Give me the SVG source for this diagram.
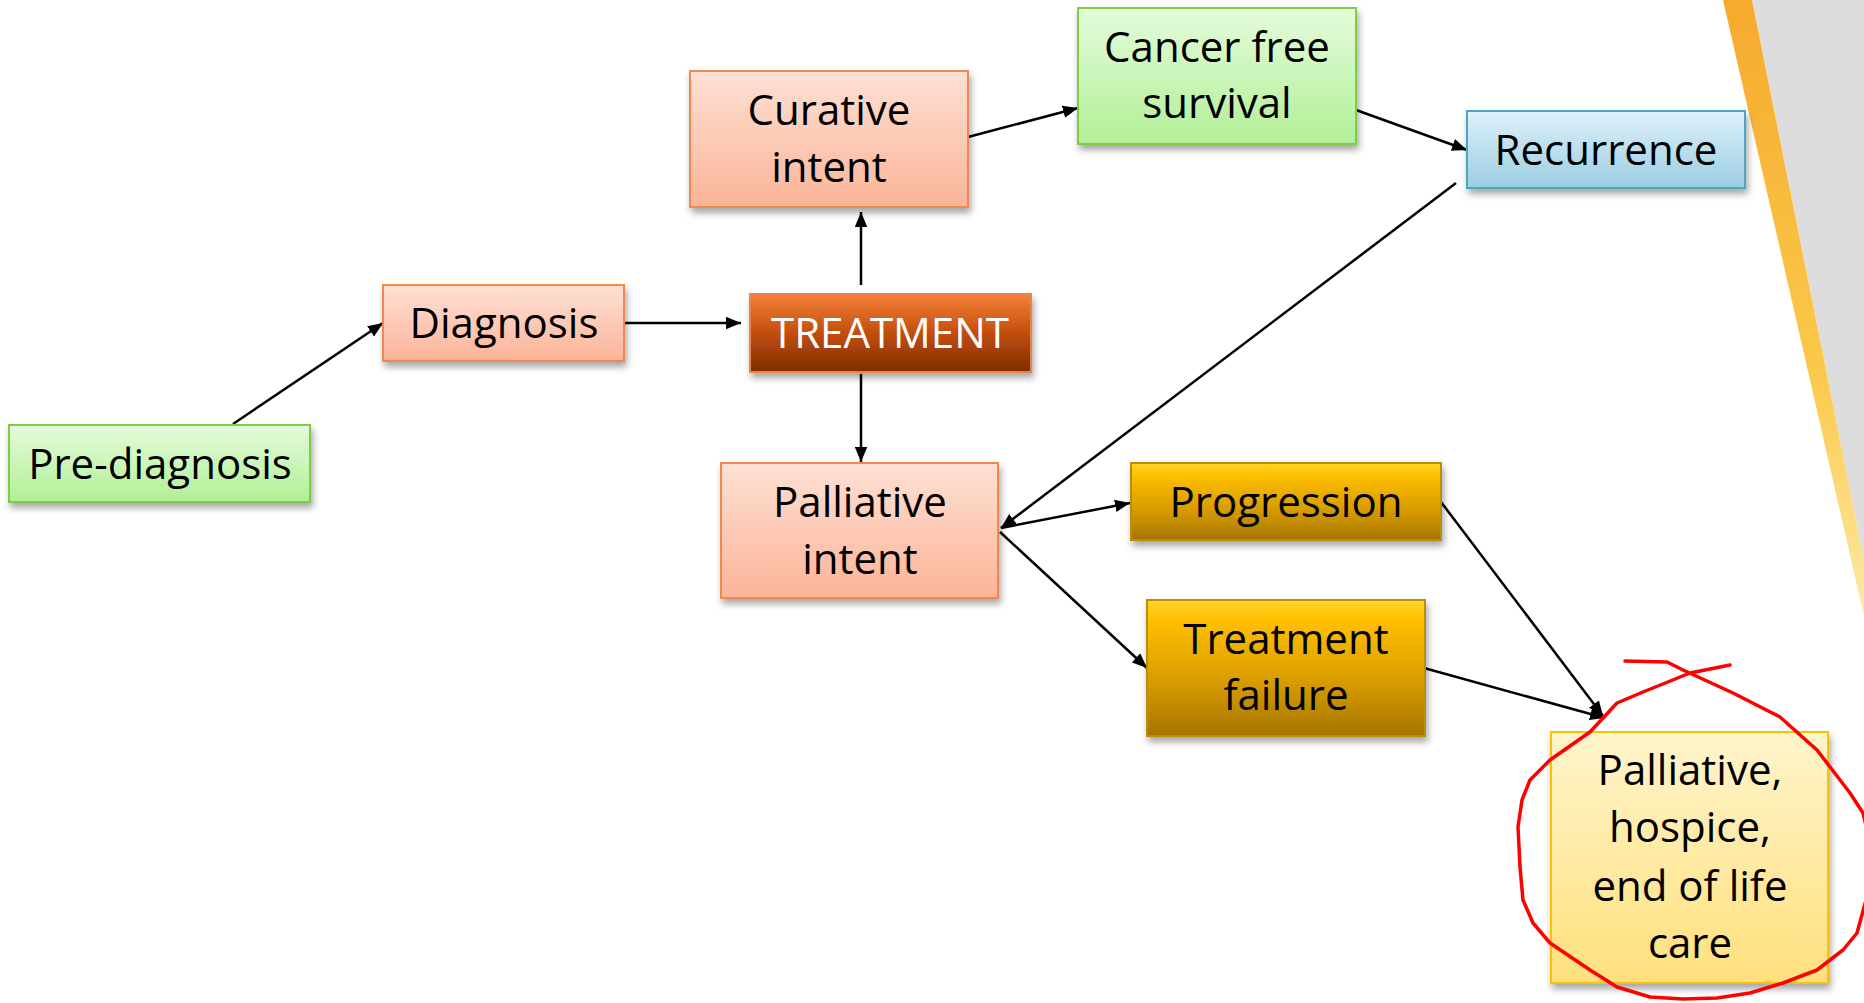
<svg xmlns="http://www.w3.org/2000/svg" width="1864" height="1003" viewBox="0 0 1864 1003">
  <style>
    .box { stroke-width: 2; filter: url(#shadow); }
    .lbl { font-family: "Open Sans", "Liberation Sans", sans-serif; font-size: 42px; fill: #000; text-anchor: middle; }
    .wht { fill: #fff; }
    .conn { stroke: #000; stroke-width: 2.5; fill: none; marker-end: url(#arrow); }
    .scribble { stroke: #ff0000; stroke-width: 3.5; fill: none; stroke-linejoin: round; stroke-linecap: round; }
  </style>
  <defs>
    <filter id="shadow" x="-10%" y="-10%" width="125%" height="135%">
      <feDropShadow dx="2" dy="5" stdDeviation="3.5" flood-color="#000" flood-opacity="0.35"/>
    </filter>
    <marker id="arrow" viewBox="0 0 12 10" refX="12" refY="5" markerWidth="15" markerHeight="13" markerUnits="userSpaceOnUse" orient="auto">
      <path d="M0,0 L12,5 L0,10 Z" fill="#000"/>
    </marker>
    <linearGradient id="gGreen" x1="0" y1="0" x2="0" y2="1">
      <stop offset="0" stop-color="#e4fcdb"/>
      <stop offset="1" stop-color="#b2ef97"/>
    </linearGradient>
    <linearGradient id="gSalmon" x1="0" y1="0" x2="0" y2="1">
      <stop offset="0" stop-color="#fee0d4"/>
      <stop offset="1" stop-color="#fbb498"/>
    </linearGradient>
    <linearGradient id="gTreat" x1="0" y1="0" x2="0" y2="1">
      <stop offset="0" stop-color="#f6823a"/>
      <stop offset="0.5" stop-color="#c24e0c"/>
      <stop offset="1" stop-color="#7e2c00"/>
    </linearGradient>
    <linearGradient id="gBlue" x1="0" y1="0" x2="0" y2="1">
      <stop offset="0" stop-color="#ddf1fa"/>
      <stop offset="1" stop-color="#9bcde2"/>
    </linearGradient>
    <linearGradient id="gGold" x1="0" y1="0" x2="0" y2="1">
      <stop offset="0" stop-color="#ffd52a"/>
      <stop offset="0.15" stop-color="#ffc000"/>
      <stop offset="0.6" stop-color="#d89c00"/>
      <stop offset="1" stop-color="#a67500"/>
    </linearGradient>
    <linearGradient id="gYellow" x1="0" y1="0" x2="0" y2="1">
      <stop offset="0" stop-color="#fff5cc"/>
      <stop offset="1" stop-color="#ffe07d"/>
    </linearGradient>
    <linearGradient id="gStripe" x1="0" y1="0" x2="0" y2="1">
      <stop offset="0" stop-color="#f6aa2e"/>
      <stop offset="0.6" stop-color="#fbc94a"/>
      <stop offset="1" stop-color="#fde9a8"/>
    </linearGradient>
  </defs>

  <rect x="0" y="0" width="1864" height="1003" fill="#ffffff"/>

  <g id="background-decor">
    <polygon points="1752,0 1864,0 1864,560" fill="#dddddd"/>
    <polygon points="1723,0 1752,0 1864,560 1864,616" fill="url(#gStripe)"/>
  </g>

  <g id="connectors">
    <path class="conn" d="M233,424 L383,323"/>
    <path class="conn" d="M625,323 L741,323"/>
    <path class="conn" d="M861,285 L861,212"/>
    <path class="conn" d="M861,374 L861,462"/>
    <path class="conn" d="M968,137 L1078,108"/>
    <path class="conn" d="M1356,110 L1467,150"/>
    <path class="conn" d="M1456,183 L1001,528"/>
    <path class="conn" d="M1001,528 L1130,503"/>
    <path class="conn" d="M1000,532 L1147,668"/>
    <path class="conn" d="M1441,502 L1603,716"/>
    <path class="conn" d="M1424,668 L1605,718"/>
  </g>

  <g id="n-prediagnosis">
    <rect class="box" x="9" y="425" width="301" height="77" fill="url(#gGreen)" stroke="#7fcd45"/>
    <text class="lbl" x="160" y="479">Pre-diagnosis</text>
  </g>

  <g id="n-diagnosis">
    <rect class="box" x="383" y="285" width="241" height="76" fill="url(#gSalmon)" stroke="#ef8a4f"/>
    <text class="lbl" x="504" y="338">Diagnosis</text>
  </g>

  <g id="n-treatment">
    <rect class="box" x="750" y="294" width="281" height="78" fill="url(#gTreat)" stroke="#eb8444"/>
    <text class="lbl wht" x="890" y="348">TREATMENT</text>
  </g>

  <g id="n-curative">
    <rect class="box" x="690" y="71" width="278" height="136" fill="url(#gSalmon)" stroke="#ef8a4f"/>
    <text class="lbl" x="829" y="125">Curative</text>
    <text class="lbl" x="829" y="182">intent</text>
  </g>

  <g id="n-cancerfree">
    <rect class="box" x="1078" y="8" width="278" height="136" fill="url(#gGreen)" stroke="#7fcd45"/>
    <text class="lbl" x="1217" y="62">Cancer free</text>
    <text class="lbl" x="1217" y="118">survival</text>
  </g>

  <g id="n-recurrence">
    <rect class="box" x="1467" y="111" width="278" height="77" fill="url(#gBlue)" stroke="#4ba7c0"/>
    <text class="lbl" x="1606" y="165">Recurrence</text>
  </g>

  <g id="n-palliative-intent">
    <rect class="box" x="721" y="463" width="277" height="135" fill="url(#gSalmon)" stroke="#ef8a4f"/>
    <text class="lbl" x="860" y="517">Palliative</text>
    <text class="lbl" x="860" y="574">intent</text>
  </g>

  <g id="n-progression">
    <rect class="box" x="1131" y="463" width="310" height="77" fill="url(#gGold)" stroke="#b58f10"/>
    <text class="lbl" x="1286" y="517">Progression</text>
  </g>

  <g id="n-treatment-failure">
    <rect class="box" x="1147" y="600" width="278" height="136" fill="url(#gGold)" stroke="#b58f10"/>
    <text class="lbl" x="1286" y="654">Treatment</text>
    <text class="lbl" x="1286" y="710">failure</text>
  </g>

  <g id="n-palliative-care">
    <rect class="box" x="1551" y="732" width="277" height="251" fill="url(#gYellow)" stroke="#ffc000"/>
    <text class="lbl" x="1690" y="785">Palliative,</text>
    <text class="lbl" x="1690" y="842">hospice,</text>
    <text class="lbl" x="1690" y="901">end of life</text>
    <text class="lbl" x="1690" y="958">care</text>
  </g>

  <g id="annotation">
    <polyline class="scribble" points="1625,661 1667,662 1683,670 1733,693 1780,717 1817,750 1850,793 1863,813 1872,850 1866,900 1857,933 1843,950 1817,970 1783,983 1750,993 1717,998 1683,999 1650,997 1617,987 1590,970 1550,943 1533,923 1523,900 1520,867 1518,827 1522,800 1530,780 1550,760 1590,732 1617,703 1643,692 1690,673 1730,665"/>
  </g>
</svg>
